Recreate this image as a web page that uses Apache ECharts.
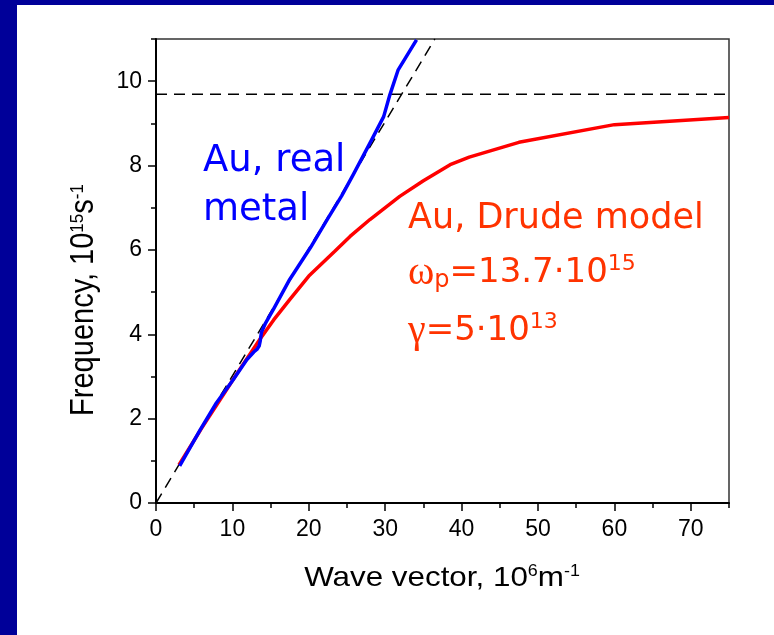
<!DOCTYPE html>
<html>
<head>
<meta charset="utf-8">
<script src="https://cdn.jsdelivr.net/npm/echarts@6/dist/echarts.min.js"></script>
<style>
html, body { margin: 0; padding: 0; background: #fff; }
#main { width: 774px; height: 635px; }
</style>
</head>
<body>
<div id="main"></div>
<script>
// 光线 (dashed light line) and plasma limit
var lightK = [0, 36.5];
var lightW = [0, 11];
var limitK = [0, 75];
var limitW = [9.69, 9.69];

// Au, Drude model (red)
var drudeK = [3, 6, 9, 11, 13.6, 15.4, 17.5, 20, 23.4, 25.4, 28, 31.9, 35, 38.5, 41, 47.5, 60, 75];
var drudeW = [0.9, 1.78, 2.62, 3.18, 3.88, 4.34, 4.82, 5.38, 5.97, 6.32, 6.72, 7.27, 7.64, 8.02, 8.2, 8.55, 8.97, 9.14];

// Au, real metal (blue)
var realK = [3.1, 5.8, 7.9, 10.1, 11.9, 12.8, 13.2, 13.5, 13.65, 13.8, 14.3, 15.4, 17.5, 20.2, 22.5, 24.3, 25.8, 28, 29.8, 30.6, 31.7, 34.1];
var realW = [0.88, 1.74, 2.37, 2.92, 3.4, 3.58, 3.64, 3.72, 3.85, 4.05, 4.25, 4.6, 5.3, 6.05, 6.75, 7.28, 7.78, 8.53, 9.16, 9.67, 10.27, 10.98];

function pairs(xs, ys) {
	var out = [];
	for (var i = 0; i < xs.length; i++) {
		out.push([xs[i], ys[i]]);
	}
	return out;
}

var chart = echarts.init(document.getElementById('main'));

var axisFont = 'Liberation Sans, Arial, sans-serif';
var noteFont = "'Comic Sans MS', 'DejaVu Sans', sans-serif";

chart.setOption({
	backgroundColor: '#ffffff',
	animation: false,
	grid: {
		left: 156, right: 45, top: 39, bottom: 132,
		show: true, borderColor: '#333', borderWidth: 1.5
	},
	xAxis: [{
		type: 'value', min: 0, max: 75, interval: 10,
		axisLine: { show: true, onZero: false, lineStyle: { color: '#000', width: 2 } },
		axisTick: { show: true, length: 8, lineStyle: { color: '#000', width: 1.5 } },
		axisLabel: { margin: 15, fontSize: 23, color: '#000', fontFamily: axisFont, showMaxLabel: false },
		splitLine: { show: false }
	}, {
		// 次刻度
		type: 'value', min: 0, max: 75, interval: 5, position: 'bottom',
		axisLine: { show: false },
		axisTick: { show: true, length: 5, lineStyle: { color: '#000', width: 1.5 } },
		axisLabel: { show: false },
		splitLine: { show: false }
	}],
	yAxis: [{
		type: 'value', min: 0, max: 11, interval: 2,
		axisLine: { show: true, onZero: false, lineStyle: { color: '#000', width: 2 } },
		axisTick: { show: true, length: 8, lineStyle: { color: '#000', width: 1.5 } },
		axisLabel: { margin: 14, fontSize: 23, color: '#000', fontFamily: axisFont, showMaxLabel: false },
		splitLine: { show: false }
	}, {
		type: 'value', min: 0, max: 11, interval: 1, position: 'left',
		axisLine: { show: false },
		axisTick: { show: true, length: 5, lineStyle: { color: '#000', width: 1.5 } },
		axisLabel: { show: false },
		splitLine: { show: false }
	}],
	series: [{
		name: 'light',
		type: 'line',
		data: pairs(lightK, lightW),
		symbol: 'none',
		lineStyle: { color: '#000', width: 1.5, type: [11, 7] },
		z: 1
	}, {
		name: 'limit',
		type: 'line',
		data: pairs(limitK, limitW),
		symbol: 'none',
		lineStyle: { color: '#000', width: 1.5, type: [11, 7] },
		z: 1
	}, {
		name: 'Drude',
		type: 'line',
		data: pairs(drudeK, drudeW),
		symbol: 'none',
		lineStyle: { color: '#ff0000', width: 3.5 },
		z: 2
	}, {
		name: 'real',
		type: 'line',
		data: pairs(realK, realW),
		symbol: 'none',
		lineStyle: { color: '#0000ff', width: 3.5, join: 'round' },
		z: 3
	}],
	graphic: [
		// 左边和上边的深蓝色边框
		{ type: 'rect', left: 0, top: 0, shape: { width: 17, height: 635 }, style: { fill: '#000099' } },
		{ type: 'rect', left: 0, top: 0, shape: { width: 774, height: 5 }, style: { fill: '#000099' } },
		// 坐标轴标题
		{
			type: 'text', x: 442, y: 578, scaleX: 1.12,
			style: {
				text: 'Wave vector, 10{sup|6}m{sup|-1}',
				fill: '#000', font: '28px ' + axisFont,
				align: 'center', verticalAlign: 'middle',
				rich: {
					sup: { fontSize: 16, fontFamily: axisFont, verticalAlign: 'top', fill: '#000' }
				}
			}
		},
		{
			type: 'text', x: 84, y: 300, rotation: Math.PI / 2, scaleY: 1.12,
			style: {
				text: 'Frequency, 10{sup|15}s{sup|-1}',
				fill: '#000', font: '29px ' + axisFont,
				align: 'center', verticalAlign: 'middle',
				rich: {
					sup: { fontSize: 17, fontFamily: axisFont, verticalAlign: 'top', fill: '#000' }
				}
			}
		},
		// 注释文字
		{
			type: 'text', x: 203, y: 161,
			style: { text: 'Au, real', fill: '#0000ff', font: '37px ' + noteFont, verticalAlign: 'middle' }
		},
		{
			type: 'text', x: 203, y: 210,
			style: { text: 'metal', fill: '#0000ff', font: '37px ' + noteFont, verticalAlign: 'middle' }
		},
		{
			type: 'text', x: 408, y: 219,
			style: { text: 'Au, Drude model', fill: '#ff3300', font: '35px ' + noteFont, verticalAlign: 'middle' }
		},
		{
			type: 'text', x: 408, y: 273,
			style: {
				text: '{g|ω}{sub|p}=13.7·10{sup|15}',
				fill: '#ff3300', font: '34px ' + noteFont, verticalAlign: 'middle',
				rich: {
					g: { fontSize: 40, fontFamily: 'Liberation Serif, serif', fill: '#ff3300' },
					sub: { fontSize: 24, fontFamily: noteFont, verticalAlign: 'bottom', fill: '#ff3300' },
					sup: { fontSize: 22, fontFamily: noteFont, verticalAlign: 'top', fill: '#ff3300' }
				}
			}
		},
		{
			type: 'text', x: 408, y: 331,
			style: {
				text: '{g|γ}=5·10{sup|13}',
				fill: '#ff3300', font: '34px ' + noteFont, verticalAlign: 'middle',
				rich: {
					g: { fontSize: 40, fontFamily: 'Liberation Serif, serif', fill: '#ff3300' },
					sup: { fontSize: 22, fontFamily: noteFont, verticalAlign: 'top', fill: '#ff3300' }
				}
			}
		}
	]
});
</script>
</body>
</html>
